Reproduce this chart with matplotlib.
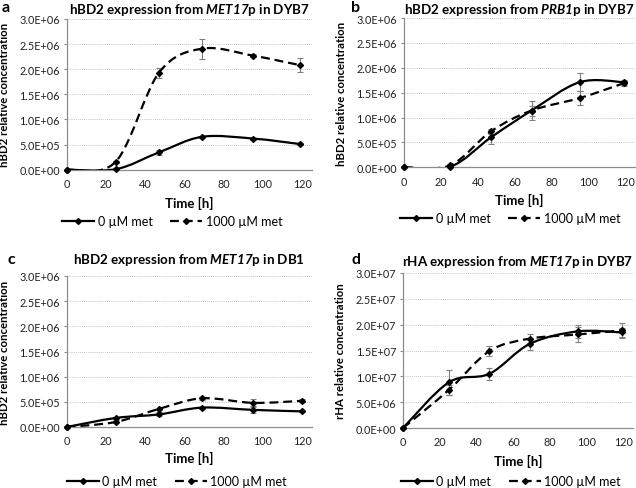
import matplotlib
matplotlib.use("Agg")
import matplotlib.pyplot as plt
from matplotlib.lines import Line2D
from matplotlib.path import Path
from matplotlib.patches import PathPatch
from matplotlib.ticker import FuncFormatter

plt.rcParams["font.family"] = ["Lato", "DejaVu Sans"]
plt.rcParams["mathtext.fontset"] = "custom"
plt.rcParams["mathtext.bf"] = "Lato:bold"
plt.rcParams["mathtext.bfit"] = "Lato:bold:italic"
plt.rcParams["mathtext.it"] = "Lato:italic"
plt.rcParams["mathtext.rm"] = "Lato"

# =========================
# Data
# =========================
time_a = [0, 25, 47, 69, 95, 119]
a_met0 = [0.0, 0.01e6, 0.345e6, 0.655e6, 0.62e6, 0.51e6]
a_met0_err = [0, 0, 0.05e6, 0.02e6, 0.02e6, 0.02e6]
a_met1000 = [0.0, 0.16e6, 1.93e6, 2.41e6, 2.27e6, 2.08e6]
a_met1000_err = [0, 0.02e6, 0.1e6, 0.2e6, 0.03e6, 0.14e6]

time_b = [0, 25, 47, 69, 95, 119]
b_met0 = [0.0, 0.01e6, 0.60e6, 1.14e6, 1.71e6, 1.71e6]
b_met0_err = [0, 0.02e6, 0.13e6, 0.19e6, 0.18e6, 0.05e6]
b_met1000 = [0.0, 0.04e6, 0.72e6, 1.14e6, 1.39e6, 1.69e6]
b_met1000_err = [0, 0.02e6, 0.05e6, 0.1e6, 0.14e6, 0.05e6]

time_c = [0, 25, 47, 69, 95, 120]
c_met0 = [0.0, 0.18e6, 0.25e6, 0.385e6, 0.34e6, 0.31e6]
c_met0_err = [0, 0.02e6, 0.04e6, 0.02e6, 0.06e6, 0.02e6]
c_met1000 = [0.0, 0.10e6, 0.36e6, 0.57e6, 0.48e6, 0.52e6]
c_met1000_err = [0, 0.03e6, 0.02e6, 0.03e6, 0.07e6, 0.03e6]

time_d = [0, 25, 47, 69, 95, 119]
d_met0 = [0.0, 8.86e6, 10.5e6, 16.3e6, 18.7e6, 18.5e6]
d_met0_err = [0, 2.4e6, 1.2e6, 1.2e6, 1.3e6, 0.9e6]
d_met1000 = [0.0, 7.4e6, 14.9e6, 17.3e6, 18.1e6, 18.9e6]
d_met1000_err = [0, 1.0e6, 0.9e6, 0.8e6, 1.5e6, 1.4e6]

yticks_hbd2 = [0, 0.5e6, 1.0e6, 1.5e6, 2.0e6, 2.5e6, 3.0e6]
yticks_rha = [0, 5e6, 10e6, 15e6, 20e6, 25e6, 30e6]
xticks = [0, 20, 40, 60, 80, 100, 120]

W, H = 636, 489
DASH = (0, (4, 2.2))


def smooth_path(x, y):
    """Excel-style smoothed line: cubic Bezier through every point."""
    pts = list(zip(x, y))
    n = len(pts)
    verts = [pts[0]]
    codes = [Path.MOVETO]
    for i in range(n - 1):
        p0 = pts[i - 1] if i > 0 else pts[i]
        p1 = pts[i]
        p2 = pts[i + 1]
        p3 = pts[i + 2] if i + 2 < n else pts[i + 1]
        c1 = (p1[0] + (p2[0] - p0[0]) / 6, p1[1] + (p2[1] - p0[1]) / 6)
        c2 = (p2[0] - (p3[0] - p1[0]) / 6, p2[1] - (p3[1] - p1[1]) / 6)
        verts += [c1, c2, p2]
        codes += [Path.CURVE4] * 3
    return Path(verts, codes)


def sci(v, _):
    if v == 0:
        return "0.0E+00"
    return f"{v:.1E}"


def draw_panel(ax, t, s0, e0, s1, e1, yticks, ylabel, title, letter, letter_xy,
               title_y, ylabel_dx, xlabel_dy, legend_xy):
    box = ax.get_position()
    ax_w = box.width * W
    ax_h = box.height * H

    ax.set_xlim(0, 125)
    ax.set_ylim(0, yticks[-1])
    ax.set_xticks(xticks)
    ax.set_yticks(yticks)
    ax.yaxis.set_major_formatter(FuncFormatter(sci))
    ax.yaxis.grid(True, linestyle=(0, (1, 1.5)), color="#b0b0b0", linewidth=0.6)
    ax.set_axisbelow(True)
    for side in ["top", "right"]:
        ax.spines[side].set_visible(False)
    for side in ["left", "bottom"]:
        ax.spines[side].set_color("#8c8c8c")
        ax.spines[side].set_linewidth(0.9)
    ax.tick_params(axis="both", labelsize=7.8, color="#8c8c8c", width=0.8,
                   labelcolor="#222222")
    ax.tick_params(axis="y", length=2.5, pad=2.5)
    ax.tick_params(axis="x", length=0, pad=6)

    for ys, es, ls in [(s0, e0, "-"), (s1, e1, DASH)]:
        ax.errorbar(t, ys, yerr=es, fmt="none", ecolor="#7f7f7f", elinewidth=0.8,
                    capsize=2.5, capthick=0.8, zorder=2)
        patch = PathPatch(smooth_path(t, ys), facecolor="none", edgecolor="black",
                          linewidth=1.6, linestyle=ls, zorder=3)
        ax.add_patch(patch)
        ax.plot(t, ys, linestyle="none", marker="D", markersize=3.0, color="black",
                zorder=4, clip_on=False)

    ax.set_ylabel(ylabel, fontsize=8.2, fontweight="bold")
    ax.yaxis.set_label_coords(-ylabel_dx / ax_w, 0.5)
    ax.set_xlabel("Time [h]", fontsize=9.5, fontweight="bold")
    ax.xaxis.set_label_coords(0.5, -xlabel_dy / ax_h)

    cx = box.x0 + box.width / 2
    fig.text(cx, 1 - title_y / H, title, ha="center", va="center",
             fontsize=9.6, fontweight="bold")
    fig.text(letter_xy[0] / W, 1 - letter_xy[1] / H, letter, ha="left", va="center",
             fontsize=11.5, fontweight="bold")

    handles = [
        Line2D([0], [0], color="black", linewidth=1.6, linestyle="-", marker="D",
               markersize=3.0, label="0 µM met"),
        Line2D([0], [0], color="black", linewidth=1.6, linestyle=DASH,
               marker="D", markersize=3.0, label="1000 µM met"),
    ]
    fig.legend(handles=handles, loc="center", ncol=2, frameon=False, fontsize=9,
               handlelength=2.6, columnspacing=1.4, handletextpad=0.25,
               bbox_to_anchor=(legend_xy[0] / W, 1 - legend_xy[1] / H))


fig = plt.figure(figsize=(6.36, 4.89), dpi=100)

ax_a = fig.add_axes([66.7 / W, 1 - 170.7 / H, 245.3 / W, 150.7 / H])
ax_b = fig.add_axes([404 / W, 1 - 168.3 / H, 231 / W, 149.3 / H])
ax_c = fig.add_axes([66.7 / W, 1 - 428 / H, 245.3 / W, 151 / H])
ax_d = fig.add_axes([403 / W, 1 - 429 / H, 230 / W, 155 / H])

draw_panel(ax_a, time_a, a_met0, a_met0_err, a_met1000, a_met1000_err, yticks_hbd2,
           "hBD2 relative concentration",
           r"hBD2 expression from $\mathbfit{MET17}$p in DYB7", "a", (2, 8),
           10, 57, 26, (172, 222))
draw_panel(ax_b, time_b, b_met0, b_met0_err, b_met1000, b_met1000_err, yticks_hbd2,
           "hBD2 relative concentration",
           r"hBD2 expression from $\mathbfit{PRB1}$p in DYB7", "b", (351, 8),
           10, 57, 26, (510, 219))
draw_panel(ax_c, time_c, c_met0, c_met0_err, c_met1000, c_met1000_err, yticks_hbd2,
           "hBD2 relative concentration",
           r"hBD2 expression from $\mathbfit{MET17}$p in DB1", "c", (8, 260),
           260, 57, 24, (177, 482))
draw_panel(ax_d, time_d, d_met0, d_met0_err, d_met1000, d_met1000_err, yticks_rha,
           "rHA relative concentration",
           r"rHA expression from $\mathbfit{MET17}$p in DYB7", "d", (351, 260),
           262, 57, 26, (511, 482))

fig.savefig("out.png", dpi=100)
